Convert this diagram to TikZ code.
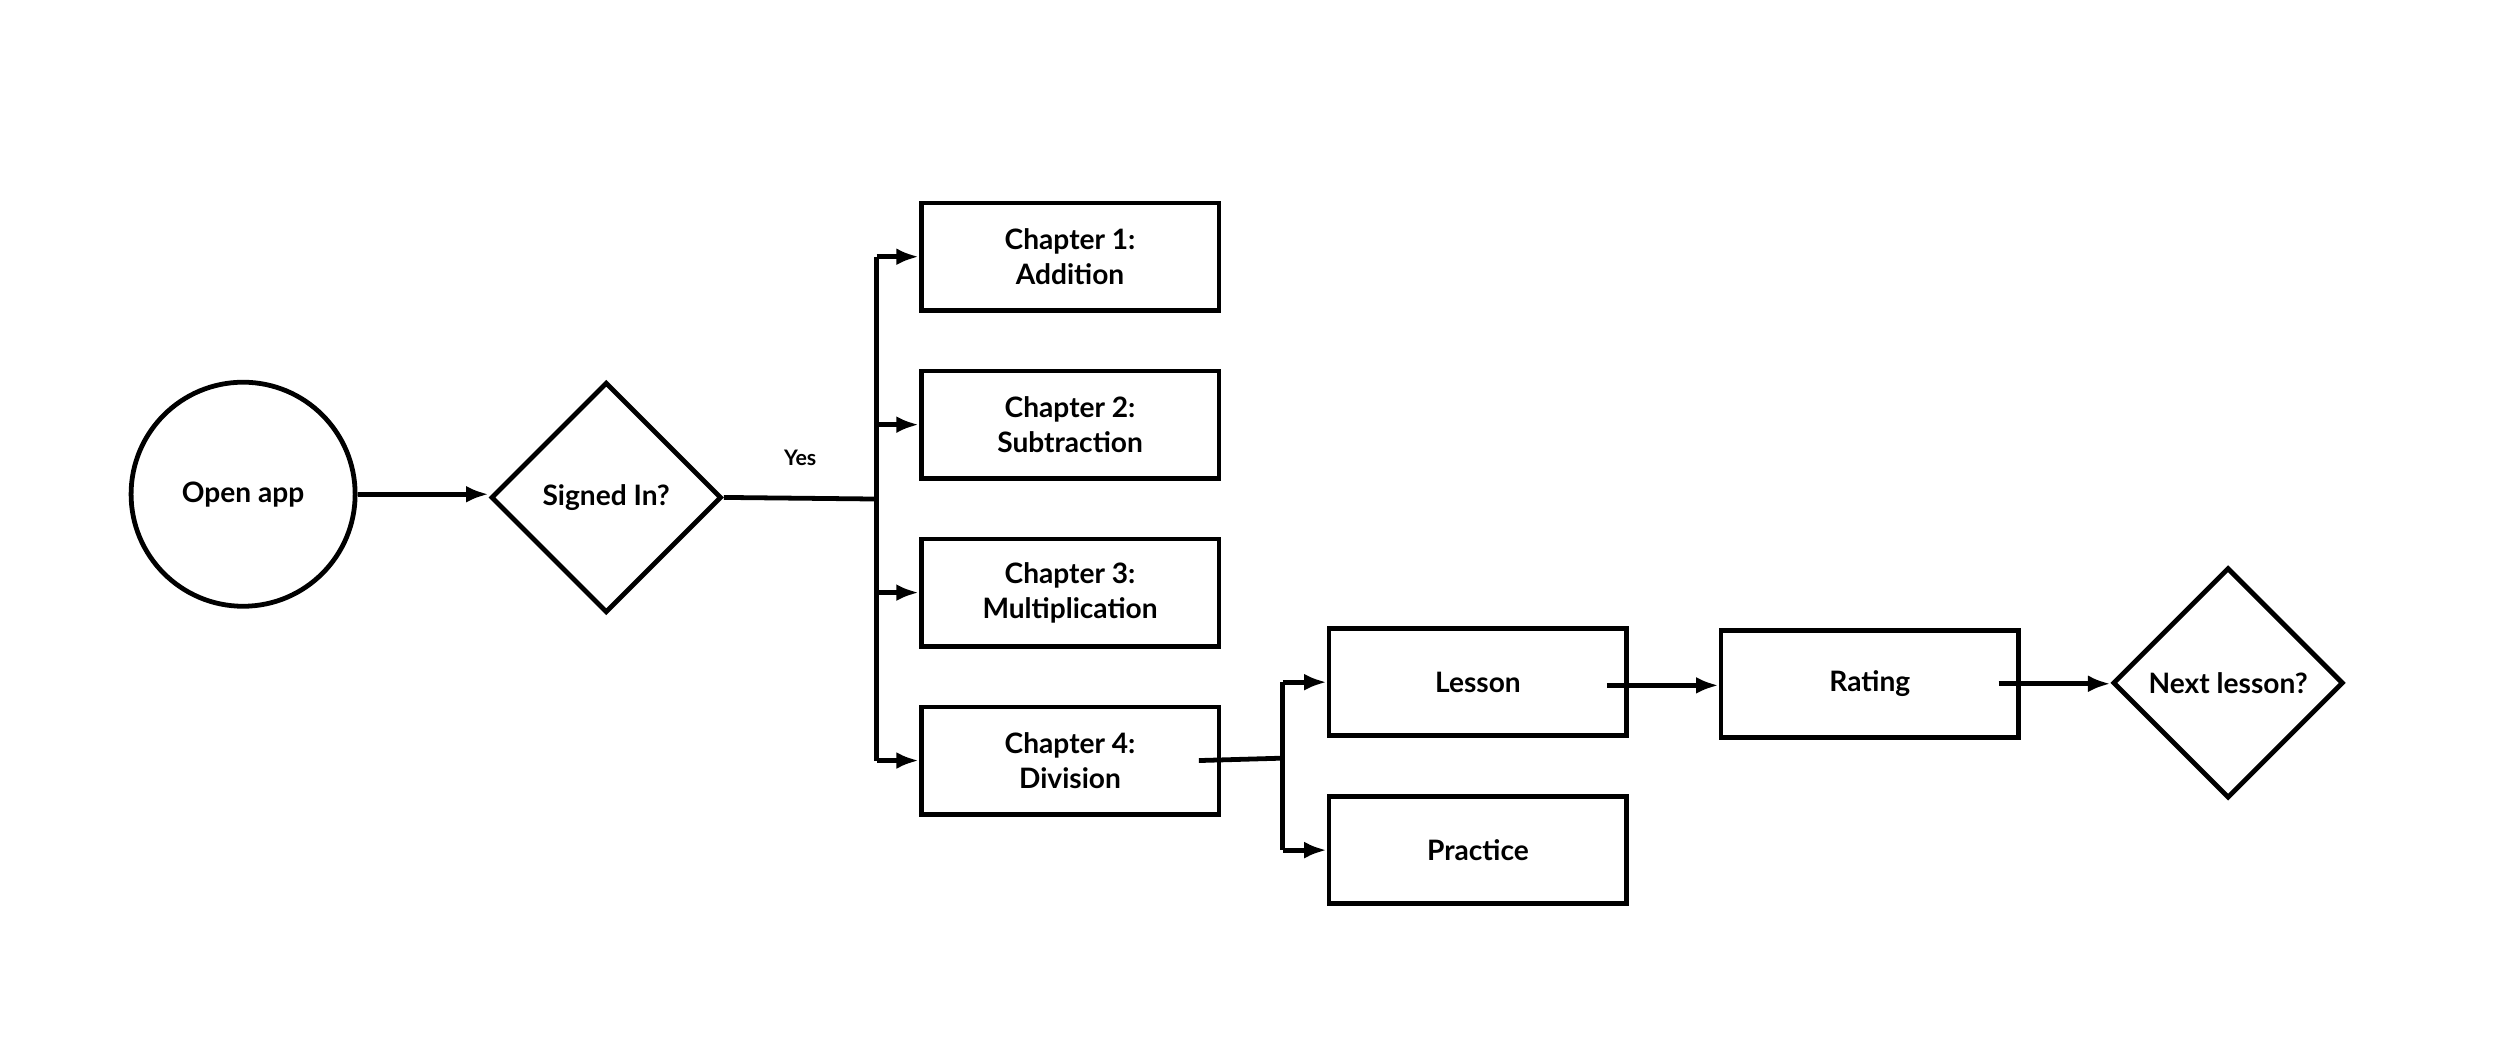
\documentclass[tikz,border=0pt]{standalone}
\usepackage{fontspec}
\setmainfont{Lato}
\usetikzlibrary{shapes.geometric,arrows.meta}
\begin{document}
\begin{tikzpicture}[x=0.01cm,y=-0.01cm,
  every node/.style={font=\fontsize{5}{6.2}\selectfont\bfseries,align=center},
  box/.style={draw,line width=0.85pt,minimum width=1.86cm,minimum height=0.67cm,inner sep=0},
  dia/.style={draw,line width=0.85pt,diamond,minimum width=1.44cm,minimum height=1.44cm,inner sep=0},
  ln/.style={line width=0.85pt},
  arr/.style={ln,-{Latex[length=4pt,width=3pt]}}]
\useasboundingbox (0,0) rectangle (1563,652);
\node[draw,line width=0.85pt,circle,minimum size=1.4cm,inner sep=0] (open) at (152,309) {Open app};
\node[dia] (signed) at (379,311) {Signed In?};
\node[box] (c1) at (669,160.5) {Chapter 1:\\Addition};
\node[box] (c2) at (669,265.5) {Chapter 2:\\Subtraction};
\node[box] (c3) at (669,370.5) {Chapter 3:\\Multiplication};
\node[box] (c4) at (669,475.5) {Chapter 4:\\Division};
\node[box] (lesson) at (924,426.5) {Lesson};
\node[box] (practice) at (924,531.5) {Practice};
\node[box] (rating) at (1169,427.5) {Rating};
\node[dia] (next) at (1393,427) {Next lesson?};
\coordinate (b1) at (548,312);
\coordinate (b2) at (802,474);
\draw[arr] (open.east) -- (signed.west |- open.east);
\draw[ln] (signed.east) -- (b1) node[midway,above=2pt,font=\fontsize{3.8}{4}\selectfont\bfseries]{Yes};
\draw[ln] (b1 |- c1.west) -- (b1 |- c4.west);
\foreach \c in {c1,c2,c3,c4} \draw[arr] (b1 |- \c.west) -- (\c.west);
\draw[ln] ([xshift=-0.14cm]c4.east) -- (b2);
\draw[ln] (b2 |- lesson.west) -- (b2 |- practice.west);
\draw[arr] (b2 |- lesson.west) -- (lesson.west);
\draw[arr] (b2 |- practice.west) -- (practice.west);
\draw[arr] ([xshift=-0.14cm,yshift=-0.02cm]lesson.east) -- ([yshift=-0.02cm]lesson.east -| rating.west);
\draw[arr] ([xshift=-0.14cm]rating.east) -- (next.west |- rating.east);
\end{tikzpicture}
\end{document}
